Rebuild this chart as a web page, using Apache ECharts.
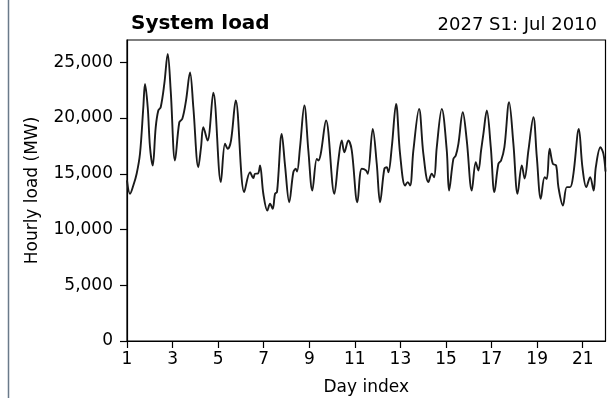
<!DOCTYPE html>
<html>
<head>
<meta charset="utf-8">
<script src="https://cdn.jsdelivr.net/npm/echarts@6/dist/echarts.min.js"></script>
<style>
html,body{margin:0;padding:0;background:#fff;}
#chart{width:608px;height:398px;}
</style>
</head>
<body>
<div id="chart"></div>
<script>
// Day index (fractional days) of traced points along the hourly load curve
var dayIndex = [1.000,1.132,1.277,1.426,1.571,1.716,1.790,1.909,2.010,2.128,2.260,2.374,2.479,2.637,2.787,2.918,3.107,3.296,3.428,3.590,3.766,3.911,4.130,4.249,4.349,4.534,4.788,5.118,5.302,5.421,5.565,5.772,6.145,6.400,6.544,6.619,6.750,6.838,6.983,7.159,7.278,7.396,7.497,7.585,7.791,7.936,8.120,8.300,8.406,8.463,8.594,8.783,8.959,9.134,9.328,9.398,9.503,9.736,10.100,10.276,10.425,10.539,10.715,10.864,11.110,11.303,11.492,11.566,11.786,11.961,12.106,12.295,12.400,12.471,12.620,12.809,12.984,13.204,13.322,13.423,13.568,13.818,14.007,14.227,14.376,14.477,14.595,14.815,15.034,15.135,15.324,15.429,15.544,15.737,15.912,16.132,16.307,16.422,16.540,16.641,16.790,16.966,17.124,17.300,17.418,17.563,17.769,17.958,18.142,18.327,18.450,18.617,18.836,18.986,19.161,19.328,19.424,19.547,19.688,19.833,19.934,20.131,20.302,20.447,20.592,20.829,20.987,21.158,21.325,21.479,21.575,21.778,21.909,22.000];
// Hourly load (MW) at those points
var loadMW = [14400,13200,13950,15030,16820,20970,23060,20970,17380,15740,19170,20670,20970,23060,25750,22460,16190,19620,19930,21570,24100,20970,15590,17380,19170,17980,22280,14250,17690,17240,17980,21570,13350,15140,14620,15000,15030,15740,13210,11710,12310,11860,13210,13370,18580,15740,12450,15140,15450,15200,17380,21120,17090,13500,16340,16190,16790,19780,13210,16190,17980,16930,17980,17090,12450,15450,15300,15000,19030,15900,12450,15450,15590,15140,17380,21270,16790,13950,14250,13950,17090,20820,16790,14250,15000,14690,17380,20820,17090,13500,16340,16640,17690,20520,17980,13500,16040,15300,17090,18580,20670,17380,13350,15900,16190,17380,21410,17690,13210,15740,14580,17090,20070,16490,12760,14690,14550,17240,15900,15740,13800,12160,13800,13800,15000,19030,15590,13800,14690,13500,15590,17380,16790,15200];
var xTicks = [1,3,5,7,9,11,13,15,17,19,21];
var yTicks = [0,5000,10000,15000,20000,25000];
var titleText = 'System load';
var subText = '2027 S1: Jul 2010';
var xName = 'Day index';
var yName = 'Hourly load (MW)';

var font = 'DejaVu Sans';
var series = dayIndex.map(function(d,i){ return [d, loadMW[i]]; });
var chart = echarts.init(document.getElementById('chart'), null, {renderer:'canvas'});
chart.setOption({
  animation:false,
  backgroundColor:'#fff',
  title:[
    {text:titleText, left:126, top:9, textStyle:{fontFamily:font, fontSize:20, fontWeight:'bold', color:'#000'}},
    {text:subText, right:6, top:11, textStyle:{fontFamily:font, fontSize:18, fontWeight:'normal', color:'#000'}}
  ],
  graphic:[{type:'rect', left:7.75, top:0, z:100, shape:{x:0,y:0,width:1.5,height:398}, style:{fill:'#6a7a8a'}}],
  grid:{left:127, right:2.5, top:40, bottom:57, outerBoundsMode:'none', containLabel:false,
        show:true, borderColor:'#000', borderWidth:1.2, backgroundColor:'transparent'},
  xAxis:{
    type:'value', min:1, max:22,
    name:xName, nameLocation:'middle', nameGap:38,
    nameTextStyle:{fontFamily:font, fontSize:17, color:'#000'},
    axisLine:{show:true, lineStyle:{color:'#000', width:1.2}},
    axisTick:{show:true, length:7, customValues:xTicks, lineStyle:{color:'#000', width:1.2}},
    axisLabel:{customValues:xTicks, margin:10, fontFamily:font, fontSize:17, color:'#000'},
    splitLine:{show:false}
  },
  yAxis:{
    type:'value', min:0, max:27000,
    name:yName, nameLocation:'middle', nameGap:86,
    nameTextStyle:{fontFamily:font, fontSize:17, color:'#000'},
    axisLine:{show:true, lineStyle:{color:'#000', width:1.2}},
    axisTick:{show:true, length:7, customValues:yTicks, lineStyle:{color:'#000', width:1.2}},
    axisLabel:{customValues:yTicks, margin:14, fontFamily:font, fontSize:17, color:'#000',
      formatter:function(v){ return Number(v).toLocaleString('en-US'); }},
    splitLine:{show:false}
  },
  series:[{
    type:'line', data:series, showSymbol:false, smooth:0.35,
    lineStyle:{color:'#1a1a1a', width:1.9}, clip:true
  }]
});
</script>
</body>
</html>
